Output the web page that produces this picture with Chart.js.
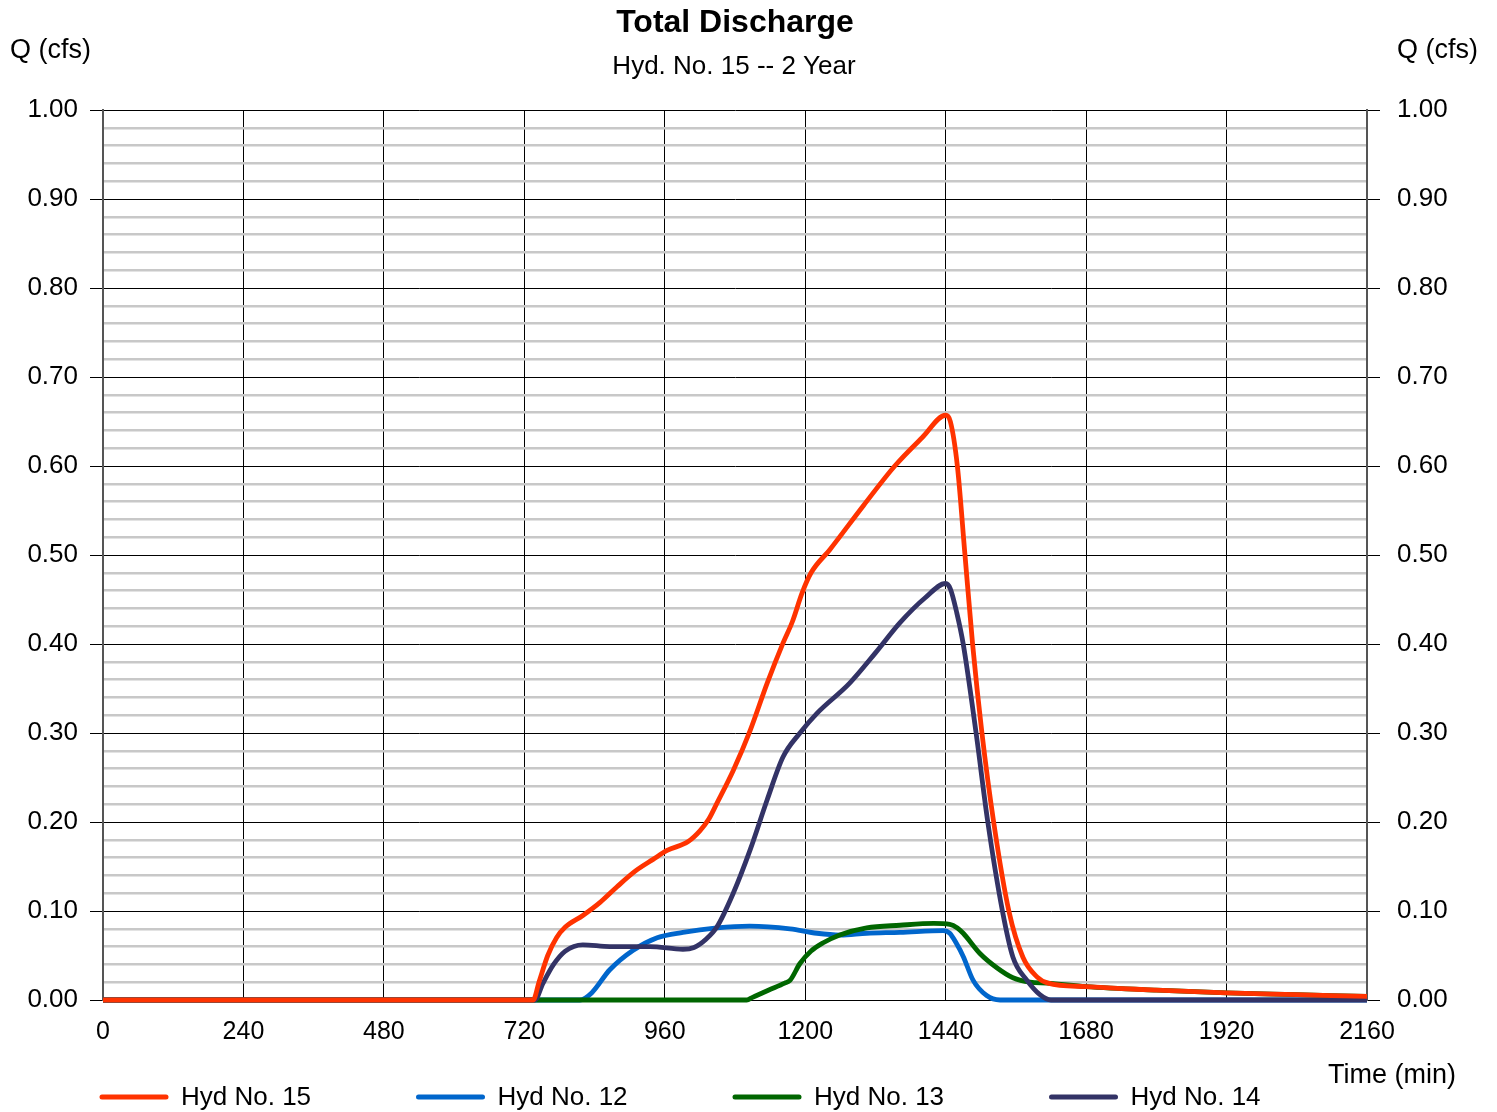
<!DOCTYPE html>
<html>
<head>
<meta charset="utf-8">
<script src="https://cdn.jsdelivr.net/npm/chart.js@4.4.1/dist/chart.umd.min.js"></script>
<style>
  body { margin: 0; background: #fff; }
</style>
</head>
<body>
<canvas id="myChart" width="1497" height="1112"></canvas>
<script>
// Hyd No. 15 (total)
const t15 = [0, 735, 745, 760, 775, 790, 820, 850, 878, 910, 940, 964, 1000, 1020, 1035, 1049, 1077, 1106, 1135, 1162, 1178, 1195, 1210, 1242, 1300, 1353, 1400, 1440, 1448, 1460, 1473, 1486, 1502, 1522, 1548, 1572, 1596, 1615, 1680, 1800, 1920, 2040, 2160];
const q15 = [0, 0, 0.02, 0.05, 0.07, 0.082, 0.095, 0.11, 0.127, 0.145, 0.158, 0.168, 0.178, 0.19, 0.203, 0.221, 0.258, 0.303, 0.356, 0.401, 0.425, 0.458, 0.48, 0.506, 0.556, 0.60, 0.632, 0.657, 0.65, 0.60, 0.50, 0.40, 0.30, 0.20, 0.10, 0.048, 0.026, 0.019, 0.015, 0.011, 0.008, 0.006, 0.004];

// Hyd No. 12
const t12 = [0, 815, 835, 866, 906, 947, 991, 1049, 1105, 1174, 1220, 1260, 1305, 1362, 1436, 1447, 1458, 1470, 1487, 1510, 1533, 2160];
const q12 = [0, 0, 0.008, 0.034, 0.056, 0.070, 0.076, 0.081, 0.083, 0.080, 0.075, 0.073, 0.075, 0.076, 0.078, 0.075, 0.064, 0.049, 0.022, 0.005, 0, 0];

// Hyd No. 13
const t13 = [0, 1100, 1110, 1137, 1165, 1174, 1191, 1210, 1230, 1259, 1305, 1362, 1420, 1447, 1460, 1470, 1499, 1528, 1555, 1584, 1613, 1680, 1800, 1920, 2040, 2160];
const q13 = [0, 0, 0.003, 0.011, 0.019, 0.022, 0.041, 0.055, 0.064, 0.073, 0.081, 0.084, 0.086, 0.085, 0.081, 0.075, 0.052, 0.036, 0.025, 0.020, 0.019, 0.015, 0.011, 0.008, 0.006, 0.004];

// Hyd No. 14
const t14 = [0, 738, 752, 770, 790, 820, 866, 935, 991, 1010, 1030, 1049, 1077, 1106, 1135, 1162, 1191, 1220, 1276, 1320, 1362, 1405, 1440, 1448, 1459, 1470, 1492, 1512, 1537, 1555, 1579, 1601, 1620, 2160];
const q14 = [0, 0, 0.019, 0.04, 0.055, 0.062, 0.060, 0.060, 0.057, 0.059, 0.068, 0.082, 0.120, 0.169, 0.225, 0.273, 0.30, 0.322, 0.356, 0.39, 0.424, 0.452, 0.468, 0.462, 0.435, 0.40, 0.30, 0.20, 0.10, 0.048, 0.022, 0.006, 0, 0];

const xTicks = [0, 240, 480, 720, 960, 1200, 1440, 1680, 1920, 2160];

const FONT = "'Liberation Sans', Arial, sans-serif";

function pts(ts, qs) {
  return ts.map((t, i) => ({ x: t, y: qs[i] }));
}

function serie(label, ts, qs, color, order) {
  return {
    label: label,
    data: pts(ts, qs),
    borderColor: color,
    backgroundColor: color,
    borderWidth: 4.8,
    pointRadius: 0,
    cubicInterpolationMode: 'monotone',
    clip: 6,
    order: order
  };
}

const isMajor = v => Math.round(v * 100) % 10 === 0;

// titles, axis captions and legend
const textos = {
  id: 'textos',
  afterDraw(chart) {
    const c = chart.ctx;
    c.save();
    c.fillStyle = '#000';
    c.textBaseline = 'middle';
    c.textAlign = 'center';
    c.font = 'bold 32px ' + FONT;
    c.fillText('Total Discharge', 735, 23);
    c.font = '26px ' + FONT;
    c.fillText('Hyd. No. 15 -- 2 Year', 734, 67);
    c.textAlign = 'left';
    c.font = '27px ' + FONT;
    c.fillText('Q (cfs)', 10, 51);
    c.textAlign = 'right';
    c.fillText('Q (cfs)', 1478, 51);
    c.fillText('Time (min)', 1456, 1076);

    // legend
    c.textAlign = 'left';
    c.font = '26px ' + FONT;
    chart.data.datasets.forEach((ds, i) => {
      const x = 102 + i * 316.5;
      const y = 1097;
      c.strokeStyle = ds.borderColor;
      c.lineWidth = 5;
      c.lineCap = 'round';
      c.beginPath();
      c.moveTo(x, y);
      c.lineTo(x + 64, y);
      c.stroke();
      c.fillText(ds.label, x + 79, y + 1);
    });
    c.restore();
  }
};

const ctx = document.getElementById('myChart');

var chart = new Chart(ctx, {
  type: 'line',
  data: {
    datasets: [
      serie('Hyd No. 15', t15, q15, '#ff3300', 0),
      serie('Hyd No. 12', t12, q12, '#0066cc', 3),
      serie('Hyd No. 13', t13, q13, '#006600', 2),
      serie('Hyd No. 14', t14, q14, '#333366', 1)
    ]
  },
  options: {
    responsive: false,
    animation: false,
    layout: { padding: { top: 110, left: 0, right: 0, bottom: 0 } },
    plugins: {
      legend: { display: false },
      title: { display: false },
      tooltip: { enabled: false }
    },
    scales: {
      x: {
        type: 'linear',
        min: 0,
        max: 2160,
        afterBuildTicks: s => { s.ticks = xTicks.map(v => ({ value: v })); },
        afterFit: s => { s.height = 112; },
        grid: { color: '#000', lineWidth: 1, drawTicks: false },
        border: { color: '#000', width: 1 },
        ticks: {
          color: '#000',
          padding: 17,
          maxRotation: 0,
          font: { family: FONT, size: 25 },
          callback: v => String(v)
        }
      },
      y: {
        position: 'left',
        min: 0,
        max: 1,
        afterFit: s => { s.width = 103; },
        grid: {
          color: c => isMajor(c.tick.value) ? '#000' : '#c8c8c8',
          lineWidth: c => isMajor(c.tick.value) ? 1 : 2.5,
          tickColor: c => isMajor(c.tick.value) ? '#000' : 'rgba(0,0,0,0)',
          tickLength: 13,
          tickWidth: 1
        },
        border: { color: '#555', width: 2 },
        ticks: {
          stepSize: 0.02,
          autoSkip: false,
          color: '#000',
          padding: 12,
          font: { family: FONT, size: 26 },
          callback: v => isMajor(v) ? v.toFixed(2) : ''
        }
      },
      y2: {
        position: 'right',
        min: 0,
        max: 1,
        afterFit: s => { s.width = 130; },
        grid: {
          drawOnChartArea: false,
          tickColor: c => isMajor(c.tick.value) ? '#000' : 'rgba(0,0,0,0)',
          tickLength: 13,
          tickWidth: 1
        },
        border: { color: '#555', width: 2 },
        ticks: {
          stepSize: 0.02,
          autoSkip: false,
          color: '#000',
          padding: 17,
          font: { family: FONT, size: 26 },
          callback: v => isMajor(v) ? v.toFixed(2) : ''
        }
      }
    }
  },
  plugins: [textos]
});
</script>
</body>
</html>
